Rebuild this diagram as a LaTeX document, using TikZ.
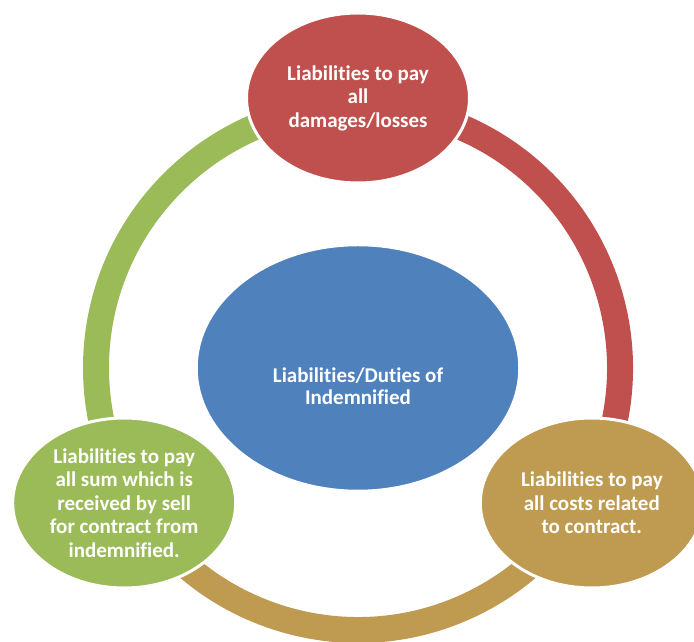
\documentclass[tikz,border=0pt]{standalone}
\usepackage{fontspec}
\setmainfont{Carlito}[Ligatures=NoCommon]
\usetikzlibrary{shapes.geometric}
\definecolor{cblue}{HTML}{4F81BD}
\definecolor{cred}{HTML}{C0504D}
\definecolor{cgreen}{HTML}{9BBB59}
\definecolor{cgold}{HTML}{BF9B52}
\tikzset{
  ringarc/.style={line width=26pt},
  item/.style={ellipse, inner sep=0pt, draw=white, line width=3pt,
    minimum width=223pt, minimum height=170pt, align=center,
    text=white, font=\fontsize{21}{23.5}\selectfont\bfseries},
  hub/.style={ellipse, inner sep=0pt, draw=white, line width=2.5pt,
    minimum width=323pt, minimum height=246pt, fill=cblue},
  hubtext/.style={inner sep=0pt, align=center,
    text=white, font=\fontsize{21}{22.5}\selectfont\bfseries}
}
\begin{document}
\begin{tikzpicture}[x=1pt,y=1pt]
\useasboundingbox (0,0) rectangle (694,642);
\coordinate (ringc) at (358,274);
% ring segments
\draw[ringarc, cgreen] ([shift={(90:262)}]ringc) arc[start angle=90, end angle=210, radius=262];
\draw[ringarc, cgold] ([shift={(210:262)}]ringc) arc[start angle=210, end angle=330, radius=262];
\draw[ringarc, cred] ([shift={(-30:262)}]ringc) arc[start angle=-30, end angle=90, radius=262];
% hub
\node[hub] (hub) at (ringc) {};
\node[hubtext] (hubtxt) at ([yshift=-18pt]hub.center) {Liabilities/Duties of\\Indemnified};
% items
\node[item, fill=cred] (top) at (358,544) {Liabilities to pay\\all\\damages/losses};
\node[item, fill=cgold] (right) at (591.8,139) {Liabilities to pay\\all costs related\\to contract.};
\node[item, fill=cgreen] (left) at (124.2,139) {Liabilities to pay\\all sum which is\\received by sell\\for contract from\\indemnified.};
\end{tikzpicture}
\end{document}
